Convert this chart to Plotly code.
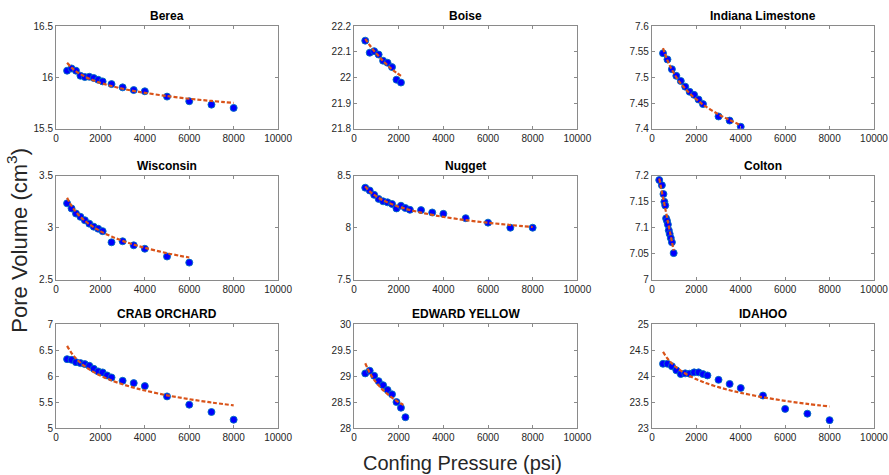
import plotly.graph_objects as go

# ---------------- data ----------------
titles = ["Berea", "Boise", "Indiana Limestone", "Wisconsin", "Nugget", "Colton",
          "CRAB ORCHARD", "EDWARD YELLOW", "IDAHOO"]

berea_p = [500, 700, 900, 1100, 1300, 1500, 1700, 1900, 2100, 2500, 3000, 3500, 4000, 5000, 6000, 7000, 8000]
berea_v = [16.065, 16.087, 16.065, 16.016, 16.003, 16.006, 15.994, 15.977, 15.961, 15.935, 15.903, 15.877,
           15.865, 15.813, 15.768, 15.735, 15.703]
berea_fit = [16.142, 16.095, 16.059, 16.031, 16.008, 15.987, 15.970, 15.954, 15.940, 15.916, 15.890, 15.868,
             15.850, 15.818, 15.792, 15.771, 15.752]

boise_p = [500, 700, 900, 1100, 1300, 1500, 1700, 1900, 2100]
boise_v = [22.143, 22.096, 22.102, 22.089, 22.065, 22.057, 22.040, 21.991, 21.980]
boise_fit = [22.150, 22.125, 22.103, 22.083, 22.064, 22.047, 22.031, 22.018, 22.006]

indiana_p = [500, 700, 900, 1100, 1300, 1500, 1700, 1900, 2100, 2300, 3000, 3500, 4000]
indiana_v = [7.547, 7.535, 7.516, 7.503, 7.493, 7.482, 7.472, 7.466, 7.457, 7.448, 7.424, 7.416, 7.404]
indiana_fit = [7.557, 7.533, 7.515, 7.500, 7.488, 7.478, 7.469, 7.461, 7.454, 7.447, 7.428, 7.417, 7.407]

wisc_p = [500, 700, 900, 1100, 1300, 1500, 1700, 1900, 2100, 2500, 3000, 3500, 4000, 5000, 6000]
wisc_v = [3.235, 3.186, 3.137, 3.105, 3.072, 3.039, 3.010, 2.990, 2.967, 2.859, 2.869, 2.830, 2.797, 2.722, 2.663]
wisc_fit = [3.288, 3.210, 3.152, 3.105, 3.067, 3.033, 3.004, 2.979, 2.955, 2.915, 2.873, 2.837, 2.806, 2.754, 2.712]

nugget_p = [500, 700, 900, 1100, 1300, 1500, 1700, 1900, 2100, 2300, 2500, 3000, 3500, 4000, 5000, 6000, 7000, 8000]
nugget_v = [8.386, 8.359, 8.317, 8.278, 8.255, 8.245, 8.229, 8.186, 8.212, 8.190, 8.173, 8.170, 8.147, 8.134,
            8.092, 8.049, 8.000, 8.000]
nugget_fit = [8.399, 8.351, 8.316, 8.287, 8.264, 8.244, 8.226, 8.210, 8.196, 8.183, 8.171, 8.146, 8.124, 8.105,
              8.073, 8.048, 8.026, 8.007]

colton_p = [330, 450, 520, 560, 600, 640, 680, 720, 760, 800, 850, 900, 980]
colton_v = [7.192, 7.182, 7.165, 7.150, 7.143, 7.118, 7.113, 7.106, 7.095, 7.088, 7.080, 7.072, 7.051]
colton_fit = [7.195, 7.169, 7.154, 7.146, 7.137, 7.129, 7.120, 7.112, 7.103, 7.094, 7.084, 7.073, 7.056]

crab_p = [500, 700, 900, 1100, 1300, 1500, 1700, 1900, 2100, 2300, 2500, 3000, 3500, 4000, 5000, 6000, 7000, 8000]
crab_v = [6.327, 6.314, 6.269, 6.250, 6.231, 6.199, 6.141, 6.090, 6.071, 6.013, 5.974, 5.910, 5.865, 5.808,
          5.609, 5.449, 5.308, 5.160]
crab_fit = [6.583, 6.444, 6.340, 6.257, 6.188, 6.129, 6.077, 6.031, 5.989, 5.952, 5.917, 5.842, 5.778, 5.723,
            5.630, 5.555, 5.491, 5.436]

edward_p = [500, 700, 900, 1100, 1300, 1500, 1700, 1900, 2100, 2300]
edward_v = [29.052, 29.104, 29.006, 28.903, 28.825, 28.734, 28.649, 28.500, 28.390, 28.208]
edward_fit = [29.247, 29.065, 28.929, 28.821, 28.730, 28.653, 28.585, 28.525, 28.471, 28.422]

idahoo_p = [500, 700, 900, 1100, 1300, 1500, 1700, 1900, 2100, 2300, 2500, 3000, 3500, 4000, 5000, 6000, 7000, 8000]
idahoo_v = [24.237, 24.237, 24.191, 24.112, 24.039, 24.053, 24.046, 24.072, 24.072, 24.039, 24.013, 23.928,
            23.849, 23.770, 23.625, 23.368, 23.276, 23.151]
idahoo_fit = [24.467, 24.339, 24.244, 24.168, 24.104, 24.050, 24.002, 23.960, 23.922, 23.888, 23.856, 23.787,
              23.728, 23.678, 23.593, 23.523, 23.465, 23.414]

y_ranges = [[15.5, 16.5], [21.8, 22.2], [7.4, 7.6],
            [2.5, 3.5], [7.5, 8.5], [7.0, 7.2],
            [5.0, 7.0], [28.0, 30.0], [23.0, 25.0]]
y_dticks = [0.5, 0.1, 0.05, 0.5, 0.5, 0.05, 0.5, 0.5, 0.5]
x_range = [0, 10000]
x_ticks = [0, 2000, 4000, 6000, 8000, 10000]

panels = [(berea_p, berea_v, berea_fit), (boise_p, boise_v, boise_fit), (indiana_p, indiana_v, indiana_fit),
          (wisc_p, wisc_v, wisc_fit), (nugget_p, nugget_v, nugget_fit), (colton_p, colton_v, colton_fit),
          (crab_p, crab_v, crab_fit), (edward_p, edward_v, edward_fit), (idahoo_p, idahoo_v, idahoo_fit)]

# ---------------- layout geometry ----------------
col_domains = [[0.0, 0.2715], [0.3644, 0.6373], [0.7285, 1.0]]
row_domains = [[0.7443, 1.0], [0.3694, 0.6271], [0.0, 0.2582]]

FONT = "Liberation Sans, Arial, Helvetica, sans-serif"
AXC = "#8a8a8a"
TXT = "#262626"

fig = go.Figure()
annotations = []
layout = {}
for i, (p, v, f) in enumerate(panels):
    r, c = divmod(i, 3)
    n = i + 1
    xa = "x" if n == 1 else f"x{n}"
    ya = "y" if n == 1 else f"y{n}"
    fig.add_trace(go.Scatter(x=p, y=v, mode="markers", xaxis=xa, yaxis=ya,
                             marker=dict(color="#0000ff", size=7, line=dict(color="#0072BD", width=0.9)),
                             showlegend=False, hoverinfo="x+y"))
    fig.add_trace(go.Scatter(x=p, y=f, mode="lines", xaxis=xa, yaxis=ya,
                             line=dict(color="#D95319", width=2.2, dash="4px,2px", shape="spline"),
                             showlegend=False, hoverinfo="x+y"))
    xkey = "xaxis" if n == 1 else f"xaxis{n}"
    ykey = "yaxis" if n == 1 else f"yaxis{n}"
    layout[xkey] = dict(domain=col_domains[c], anchor=ya, range=x_range, tickvals=x_ticks,
                        tickformat="d", ticks="inside", ticklen=3, tickcolor=AXC, mirror="ticks",
                        showline=True, linecolor=AXC, linewidth=1, showgrid=False, zeroline=False,
                        automargin=False, tickfont=dict(family=FONT, size=10, color=TXT))
    layout[ykey] = dict(domain=row_domains[r], anchor=xa, range=y_ranges[i], dtick=y_dticks[i],
                        tick0=y_ranges[i][0], ticks="inside", ticklen=3, tickcolor=AXC, mirror="ticks",
                        showline=True, linecolor=AXC, linewidth=1, showgrid=False, zeroline=False,
                        automargin=False, tickfont=dict(family=FONT, size=10, color=TXT))
    annotations.append(dict(text=f"<b>{titles[i]}</b>", xref="paper", yref="paper",
                            x=sum(col_domains[c]) / 2, y=row_domains[r][1], xanchor="center",
                            yanchor="bottom", yshift=1, showarrow=False,
                            font=dict(family=FONT, size=12, color="#000000")))

annotations.append(dict(text="Confing Pressure (psi)", xref="paper", yref="paper", x=0.497, y=0,
                        xanchor="center", yanchor="middle", yshift=-35, showarrow=False,
                        font=dict(family=FONT, size=20, color=TXT)))
annotations.append(dict(text="Pore Volume (cm<sup>3</sup>)", xref="paper", yref="paper", x=0, y=0.466,
                        xanchor="center", yanchor="middle", xshift=-39, textangle=-90, showarrow=False,
                        font=dict(family=FONT, size=22, color=TXT)))

fig.update_layout(width=889, height=475, margin=dict(l=55.6, r=15.3, t=25.5, b=46.7, autoexpand=False),
                  paper_bgcolor="white", plot_bgcolor="white", annotations=annotations, **layout)

# remove the browser's default 8px page margin so the figure sits at the window origin
fig.write_html("out.html", config={"displayModeBar": False},
               post_script="document.body.style.margin='0';document.body.style.overflow='hidden';")
